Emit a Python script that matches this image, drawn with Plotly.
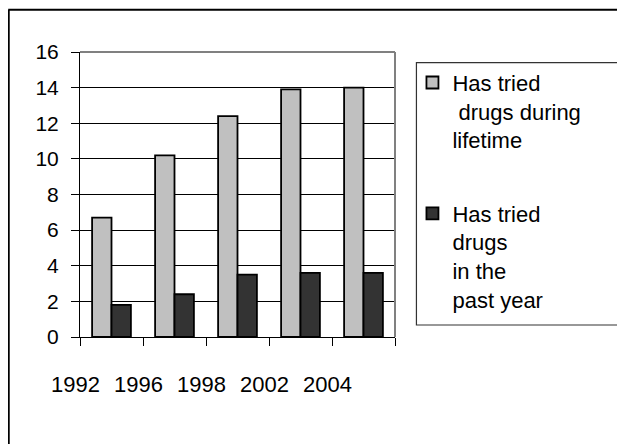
import plotly.graph_objects as go

years = ["1992", "1996", "1998", "2002", "2004"]
lifetime = [6.7, 10.2, 12.4, 13.9, 14.0]
past_year = [1.8, 2.4, 3.5, 3.6, 3.6]
name_lifetime = "Has tried<br>\u00a0drugs during<br>lifetime"
name_past = "Has tried<br>drugs<br>in the<br>past year"

# the page body adds an 8px margin, so the figure is drawn 8px smaller
OFF = 8
W, H = 625 - OFF, 444 - OFF
L, R, T, B = 79.5 - OFF, 395.5 - OFF, 52.3 - OFF, 337.0 - OFF

def px_x(x):
    return (x - OFF - L) / (R - L)

def px_y(y):
    return (B - (y - OFF)) / (B - T)

FONT = "Liberation Sans, Arial, sans-serif"

fig = go.Figure()
fig.add_trace(go.Bar(x=years, y=lifetime, name=name_lifetime, legendgroup="a",
                     marker=dict(color="#C0C0C0", line=dict(color="#000000", width=1.8))))
fig.add_trace(go.Bar(x=years, y=past_year, name=name_past, legendgroup="b",
                     marker=dict(color="#333333", line=dict(color="#000000", width=1.8))))

fig.update_layout(
    width=W, height=H,
    margin=dict(l=L, r=W - R, t=T, b=H - B, pad=0),
    paper_bgcolor="white", plot_bgcolor="white",
    barmode="group", bargap=0.384, bargroupgap=0,
    font=dict(family=FONT, color="#000000", size=21),
    showlegend=True,
    legend=dict(x=px_x(413), y=px_y(62), xanchor="left", yanchor="top",
                bgcolor="rgba(0,0,0,0)", borderwidth=0, valign="top",
                traceorder="grouped", tracegroupgap=42,
                font=dict(family=FONT, size=22, color="#000000")),
    xaxis=dict(type="category", tickson="boundaries", ticks="outside", ticklen=8,
               tickcolor="#000000", tickwidth=1, showgrid=False, showline=True,
               linecolor="#000000", linewidth=1,
               ticklabelshift=-36, ticklabelstandoff=28,
               tickfont=dict(family=FONT, size=22)),
    yaxis=dict(range=[0, 16], tickvals=[0, 2, 4, 6, 8, 10, 12, 14, 16],
               ticks="outside", ticklen=8, tickcolor="#000000", showline=True,
               linecolor="#000000", linewidth=1, showgrid=True,
               gridcolor="#000000", gridwidth=1, zeroline=False,
               ticklabelstandoff=8,
               tickfont=dict(family=FONT, size=21)),
)

shapes = []
# grey plot frame (top and right)
shapes.append(dict(type="line", xref="paper", yref="paper", x0=0, x1=1, y0=1, y1=1,
                   line=dict(color="#808080", width=2)))
shapes.append(dict(type="line", xref="paper", yref="paper", x0=1, x1=1, y0=0, y1=1,
                   line=dict(color="#808080", width=2)))
# legend box
shapes.append(dict(type="rect", xref="paper", yref="paper",
                   x0=px_x(417), x1=px_x(621), y0=px_y(325), y1=px_y(63),
                   line=dict(color="#333333", width=1.2)))
# outer chart border (top and left visible)
shapes.append(dict(type="line", xref="paper", yref="paper",
                   x0=px_x(7.5), x1=px_x(630), y0=px_y(10), y1=px_y(10),
                   line=dict(color="#000000", width=2)))
shapes.append(dict(type="line", xref="paper", yref="paper",
                   x0=px_x(8), x1=px_x(8), y0=px_y(10), y1=px_y(450),
                   line=dict(color="#000000", width=2)))
fig.update_layout(shapes=shapes)

fig.write_html("out.html")
